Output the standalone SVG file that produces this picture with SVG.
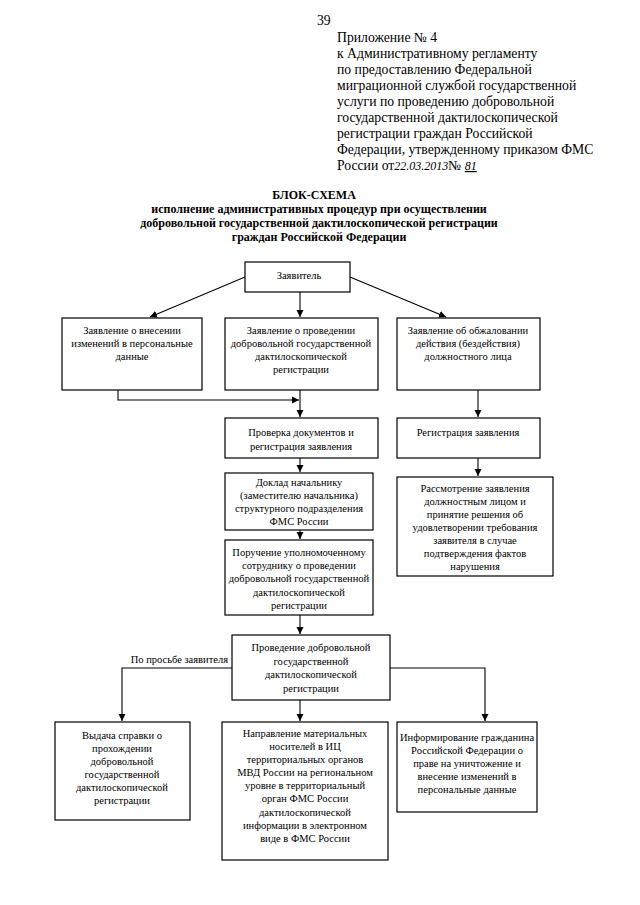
<svg xmlns="http://www.w3.org/2000/svg" width="640" height="905" viewBox="0 0 640 905">
<defs>
<marker id="ah" markerWidth="8" markerHeight="8" refX="7" refY="4" orient="auto" markerUnits="userSpaceOnUse">
<path d="M0,0.5 L7,4 L0,7.5 Z" fill="#000"/>
</marker>
<style>
.hdr{font-family:"Liberation Serif","Times New Roman",serif;font-size:13.7px;fill:#000}
.ttl{font-family:"Liberation Serif","Times New Roman",serif;font-size:12px;font-weight:bold;fill:#000;text-anchor:middle}
.bx{fill:#fff;stroke:#000;stroke-width:1.2}
.t{font-family:"Liberation Serif","Times New Roman",serif;font-size:10.5px;fill:#000;text-anchor:middle}
.c{fill:none;stroke:#000;stroke-width:1.1}
.hw{font-family:"Liberation Serif",serif;font-style:italic;font-size:12px;fill:#000}
</style>
</defs>
<rect width="640" height="905" fill="#fff"/>

<g id="header">
<text class="hdr" x="317" y="25" font-size="11">39</text>
<text class="hdr" x="337" y="42">Приложение № 4</text>
<text class="hdr" x="337" y="58">к Административному регламенту</text>
<text class="hdr" x="337" y="74">по предоставлению Федеральной</text>
<text class="hdr" x="337" y="90">миграционной службой государственной</text>
<text class="hdr" x="337" y="106">услуги по проведению добровольной</text>
<text class="hdr" x="337" y="122">государственной дактилоскопической</text>
<text class="hdr" x="337" y="138">регистрации граждан Российской</text>
<text class="hdr" x="337" y="154">Федерации, утвержденному приказом ФМС</text>
<text class="hdr" x="337" y="170">России от<tspan class="hw">22.03.2013</tspan>№ <tspan class="hw" text-decoration="underline"> 81 </tspan></text>
</g>

<g id="title">
<text class="ttl" x="314" y="199">БЛОК-СХЕМА</text>
<text class="ttl" x="319" y="213">исполнение административных процедур при осуществлении</text>
<text class="ttl" x="319" y="227">добровольной государственной дактилоскопической регистрации</text>
<text class="ttl" x="319" y="241">граждан Российской Федерации</text>
</g>

<g id="connectors">
<line class="c" x1="245" y1="277" x2="150" y2="317" marker-end="url(#ah)"/>
<line class="c" x1="300" y1="292" x2="300" y2="317" marker-end="url(#ah)"/>
<line class="c" x1="350" y1="277" x2="446" y2="317" marker-end="url(#ah)"/>
<polyline class="c" points="118,390 118,400 299,400" marker-end="url(#ah)"/>
<line class="c" x1="300" y1="390" x2="300" y2="417" marker-end="url(#ah)"/>
<line class="c" x1="478" y1="390" x2="478" y2="417" marker-end="url(#ah)"/>
<line class="c" x1="300" y1="458" x2="300" y2="472" marker-end="url(#ah)"/>
<line class="c" x1="478" y1="458" x2="478" y2="476" marker-end="url(#ah)"/>
<line class="c" x1="300" y1="530" x2="300" y2="539" marker-end="url(#ah)"/>
<line class="c" x1="300" y1="615" x2="300" y2="634" marker-end="url(#ah)"/>
<polyline class="c" points="232,668 122,668 122,721" marker-end="url(#ah)"/>
<line class="c" x1="300" y1="700" x2="300" y2="721" marker-end="url(#ah)"/>
<polyline class="c" points="390,668 485,668 485,721" marker-end="url(#ah)"/>
</g>

<g id="n-applicant">
<rect class="bx" x="245" y="262" width="105" height="30"/>
<text class="t" x="299" y="279">Заявитель</text>
</g>

<g id="n-change">
<rect class="bx" x="62" y="318" width="140" height="72"/>
<text class="t" x="132" y="334">Заявление о внесении</text>
<text class="t" x="132" y="347">изменений в персональные</text>
<text class="t" x="132" y="360">данные</text>
</g>

<g id="n-request">
<rect class="bx" x="225" y="318" width="153" height="72"/>
<text class="t" x="301" y="334">Заявление о проведении</text>
<text class="t" x="301" y="347">добровольной государственной</text>
<text class="t" x="301" y="360">дактилоскопической</text>
<text class="t" x="301" y="373">регистрации</text>
</g>

<g id="n-appeal">
<rect class="bx" x="397" y="318" width="143" height="72"/>
<text class="t" x="468" y="334">Заявление об обжаловании</text>
<text class="t" x="468" y="347">действия (бездействия)</text>
<text class="t" x="468" y="360">должностного лица</text>
</g>

<g id="n-check">
<rect class="bx" x="225" y="418" width="153" height="40"/>
<text class="t" x="301" y="436">Проверка документов и</text>
<text class="t" x="301" y="450">регистрация заявления</text>
</g>

<g id="n-register">
<rect class="bx" x="397" y="418" width="143" height="40"/>
<text class="t" x="468" y="436">Регистрация заявления</text>
</g>

<g id="n-report">
<rect class="bx" x="225" y="473" width="148" height="57"/>
<text class="t" x="299" y="486">Доклад начальнику</text>
<text class="t" x="299" y="499">(заместителю начальника)</text>
<text class="t" x="299" y="512">структурного подразделения</text>
<text class="t" x="299" y="525">ФМС России</text>
</g>

<g id="n-review">
<rect class="bx" x="397" y="477" width="156" height="99"/>
<text class="t" x="475" y="492">Рассмотрение заявления</text>
<text class="t" x="475" y="505">должностным лицом и</text>
<text class="t" x="475" y="518">принятие решения об</text>
<text class="t" x="475" y="531">удовлетворении требования</text>
<text class="t" x="475" y="544">заявителя в случае</text>
<text class="t" x="475" y="557">подтверждения фактов</text>
<text class="t" x="475" y="570">нарушения</text>
</g>

<g id="n-assign">
<rect class="bx" x="225" y="540" width="148" height="75"/>
<text class="t" x="299" y="556">Поручение уполномоченному</text>
<text class="t" x="299" y="569">сотруднику о проведении</text>
<text class="t" x="299" y="582">добровольной государственной</text>
<text class="t" x="299" y="596">дактилоскопической</text>
<text class="t" x="299" y="609">регистрации</text>
</g>

<g id="n-conduct">
<rect class="bx" x="232" y="635" width="158" height="65"/>
<text class="t" x="311" y="651">Проведение добровольной</text>
<text class="t" x="311" y="665">государственной</text>
<text class="t" x="311" y="678">дактилоскопической</text>
<text class="t" x="311" y="692">регистрации</text>
</g>

<g id="label-request">
<text class="t" x="228" y="663" style="text-anchor:end">По просьбе заявителя</text>
</g>

<g id="n-certificate">
<rect class="bx" x="55" y="722" width="135" height="98"/>
<text class="t" x="122" y="739">Выдача справки о</text>
<text class="t" x="122" y="752">прохождении</text>
<text class="t" x="122" y="765">добровольной</text>
<text class="t" x="122" y="778">государственной</text>
<text class="t" x="122" y="791">дактилоскопической</text>
<text class="t" x="122" y="804">регистрации</text>
</g>

<g id="n-send">
<rect class="bx" x="222" y="722" width="166" height="138"/>
<text class="t" x="305" y="737">Направление материальных</text>
<text class="t" x="305" y="750">носителей в ИЦ</text>
<text class="t" x="305" y="763">территориальных органов</text>
<text class="t" x="305" y="776">МВД России на региональном</text>
<text class="t" x="305" y="789">уровне в территориальный</text>
<text class="t" x="305" y="802">орган ФМС России</text>
<text class="t" x="305" y="816">дактилоскопической</text>
<text class="t" x="305" y="829">информации в электронном</text>
<text class="t" x="305" y="842">виде в ФМС России</text>
</g>

<g id="n-inform">
<rect class="bx" x="397" y="722" width="140" height="90"/>
<text class="t" x="467" y="741">Информирование гражданина</text>
<text class="t" x="467" y="754">Российской Федерации о</text>
<text class="t" x="467" y="767">праве на уничтожение и</text>
<text class="t" x="467" y="780">внесение изменений в</text>
<text class="t" x="467" y="793">персональные данные</text>
</g>
</svg>
